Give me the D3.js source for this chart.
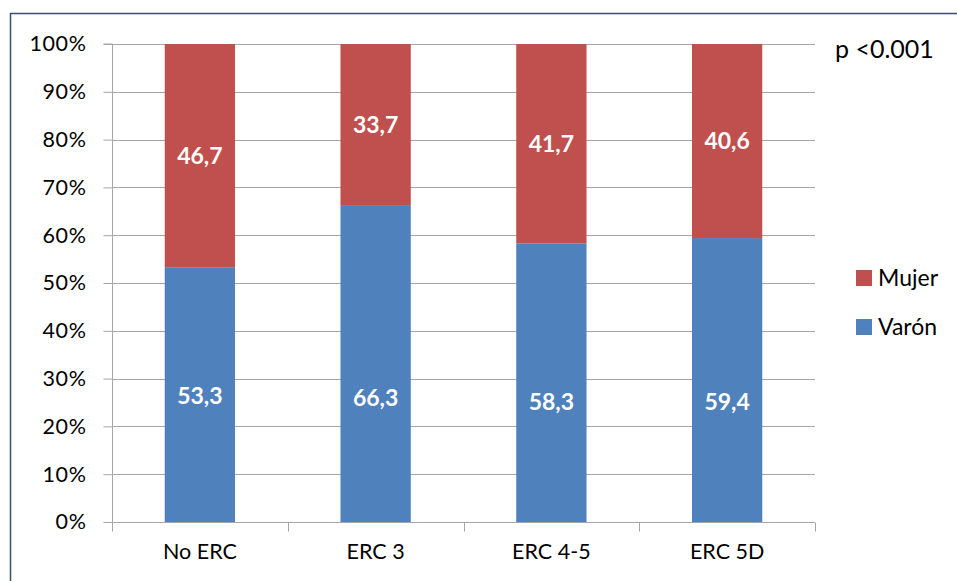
<!DOCTYPE html>
<html>
<head>
<meta charset="utf-8">
<script src="https://cdn.jsdelivr.net/npm/d3@7"></script>
<style>
  html, body { margin: 0; padding: 0; background: #fff; }
  svg { display: block; }
  text { font-family: Lato, "Open Sans", "Liberation Sans", sans-serif; }
</style>
</head>
<body>
<svg id="chart" width="957" height="581"></svg>
<script>
// Distribución por sexo (%) según grupo de ERC
const categories = ["No ERC", "ERC 3", "ERC 4-5", "ERC 5D"];
const varon = [53.3, 66.3, 58.3, 59.4];
const mujer = [46.7, 33.7, 41.7, 40.6];
const seriesNames = ["Varón", "Mujer"];
const yTicks = [0, 10, 20, 30, 40, 50, 60, 70, 80, 90, 100];
const pLabel = "p <0.001";
// height (in %) at which each Varón value label sits
const varonLabelAt = [26.4, 26.1, 25.1, 25.1];

const colors = { "Varón": "#4F81BD", "Mujer": "#C0504D" };

const svg = d3.select("#chart");
const W = 957, H = 581;
const margin = { left: 112, right: W - 815, top: 44, bottom: H - 522 };

// outer chart frame
svg.append("rect")
  .attr("x", 10.5).attr("y", 13.5)
  .attr("width", W + 20).attr("height", H + 20)
  .attr("fill", "none").attr("stroke", "#3B4E6E").attr("stroke-width", 1.5);

const x = d3.scaleBand().domain(categories)
  .range([margin.left, W - margin.right]).paddingInner(0.6).paddingOuter(0.3);
const xOuter = d3.scaleBand().domain(categories)
  .range([margin.left, W - margin.right]);
const y = d3.scaleLinear().domain([0, 100]).range([H - margin.bottom, margin.top]);

// gridlines
svg.append("g").selectAll("line").data(yTicks.filter(d => d > 0)).join("line")
  .attr("x1", margin.left).attr("x2", W - margin.right)
  .attr("y1", d => Math.round(y(d)) + 0.5).attr("y2", d => Math.round(y(d)) + 0.5)
  .attr("stroke", "#A6A6A6").attr("stroke-width", 1);

// stacked data
const rows = categories.map((c, i) => ({ cat: c, idx: i, "Varón": varon[i], "Mujer": mujer[i] }));
const stack = d3.stack().keys(seriesNames)(rows);

const g = svg.append("g");
stack.forEach(layer => {
  g.append("g").selectAll("rect").data(layer).join("rect")
    .attr("x", d => x(d.data.cat))
    .attr("width", x.bandwidth())
    .attr("y", d => y(d[1]))
    .attr("height", d => y(d[0]) - y(d[1]))
    .attr("fill", colors[layer.key]);
  g.append("g").selectAll("text").data(layer).join("text")
    .attr("x", d => x(d.data.cat) + x.bandwidth() / 2)
    .attr("y", d => layer.key === "Varón" ? y(varonLabelAt[d.data.idx]) : (y(d[0]) + y(d[1])) / 2)
    .attr("dy", "0.36em")
    .attr("text-anchor", "middle")
    .attr("fill", "#fff").attr("font-weight", "bold").attr("font-size", 23)
    .text(d => d3.format(".1f")(d[1] - d[0]).replace(".", ","));
});

// y axis
const yAxis = svg.append("g")
  .attr("transform", `translate(${margin.left + 0.5},0)`)
  .call(d3.axisLeft(y).tickValues(yTicks).tickSize(9).tickPadding(17)
    .tickFormat(d => d + "%"));
yAxis.select(".domain").attr("stroke", "#A6A6A6").attr("d", `M-9,${y(100)}H0V${y(0)}`);
yAxis.selectAll(".tick line").attr("stroke", "#A6A6A6");
yAxis.selectAll(".tick text").attr("font-size", 21.5).attr("fill", "#000")
  .attr("letter-spacing", "0.6px")
  .style("font-family", "Lato, 'Open Sans', sans-serif");

// x axis
const xAxisG = svg.append("g").attr("transform", `translate(0,${Math.round(y(0)) + 0.5})`);
xAxisG.append("line").attr("x1", margin.left).attr("x2", W - margin.right)
  .attr("stroke", "#A6A6A6");
const bounds = categories.map(c => xOuter(c)).concat([W - margin.right]);
xAxisG.selectAll("line.tk").data(bounds).join("line").attr("class", "tk")
  .attr("x1", d => Math.round(d) + 0.5).attr("x2", d => Math.round(d) + 0.5)
  .attr("y1", 0).attr("y2", 9).attr("stroke", "#A6A6A6");
xAxisG.selectAll("text").data(categories).join("text")
  .attr("x", d => xOuter(d) + xOuter.bandwidth() / 2)
  .attr("y", 36)
  .attr("text-anchor", "middle").attr("font-size", 21.5).attr("fill", "#000")
  .text(d => d);

// p-value annotation
svg.append("text").attr("x", 835).attr("y", 58)
  .attr("font-size", 25).attr("fill", "#000").text(pLabel);

// legend
const legend = svg.append("g");
["Mujer", "Varón"].forEach((k, i) => {
  const ly = 278 + i * 49;
  legend.append("rect").attr("x", 856).attr("y", ly - 8).attr("width", 16).attr("height", 16)
    .attr("fill", colors[k]);
  legend.append("text").attr("x", 878).attr("y", ly).attr("dy", "0.36em")
    .attr("font-size", 23).attr("fill", "#000").text(k);
});
</script>
</body>
</html>
